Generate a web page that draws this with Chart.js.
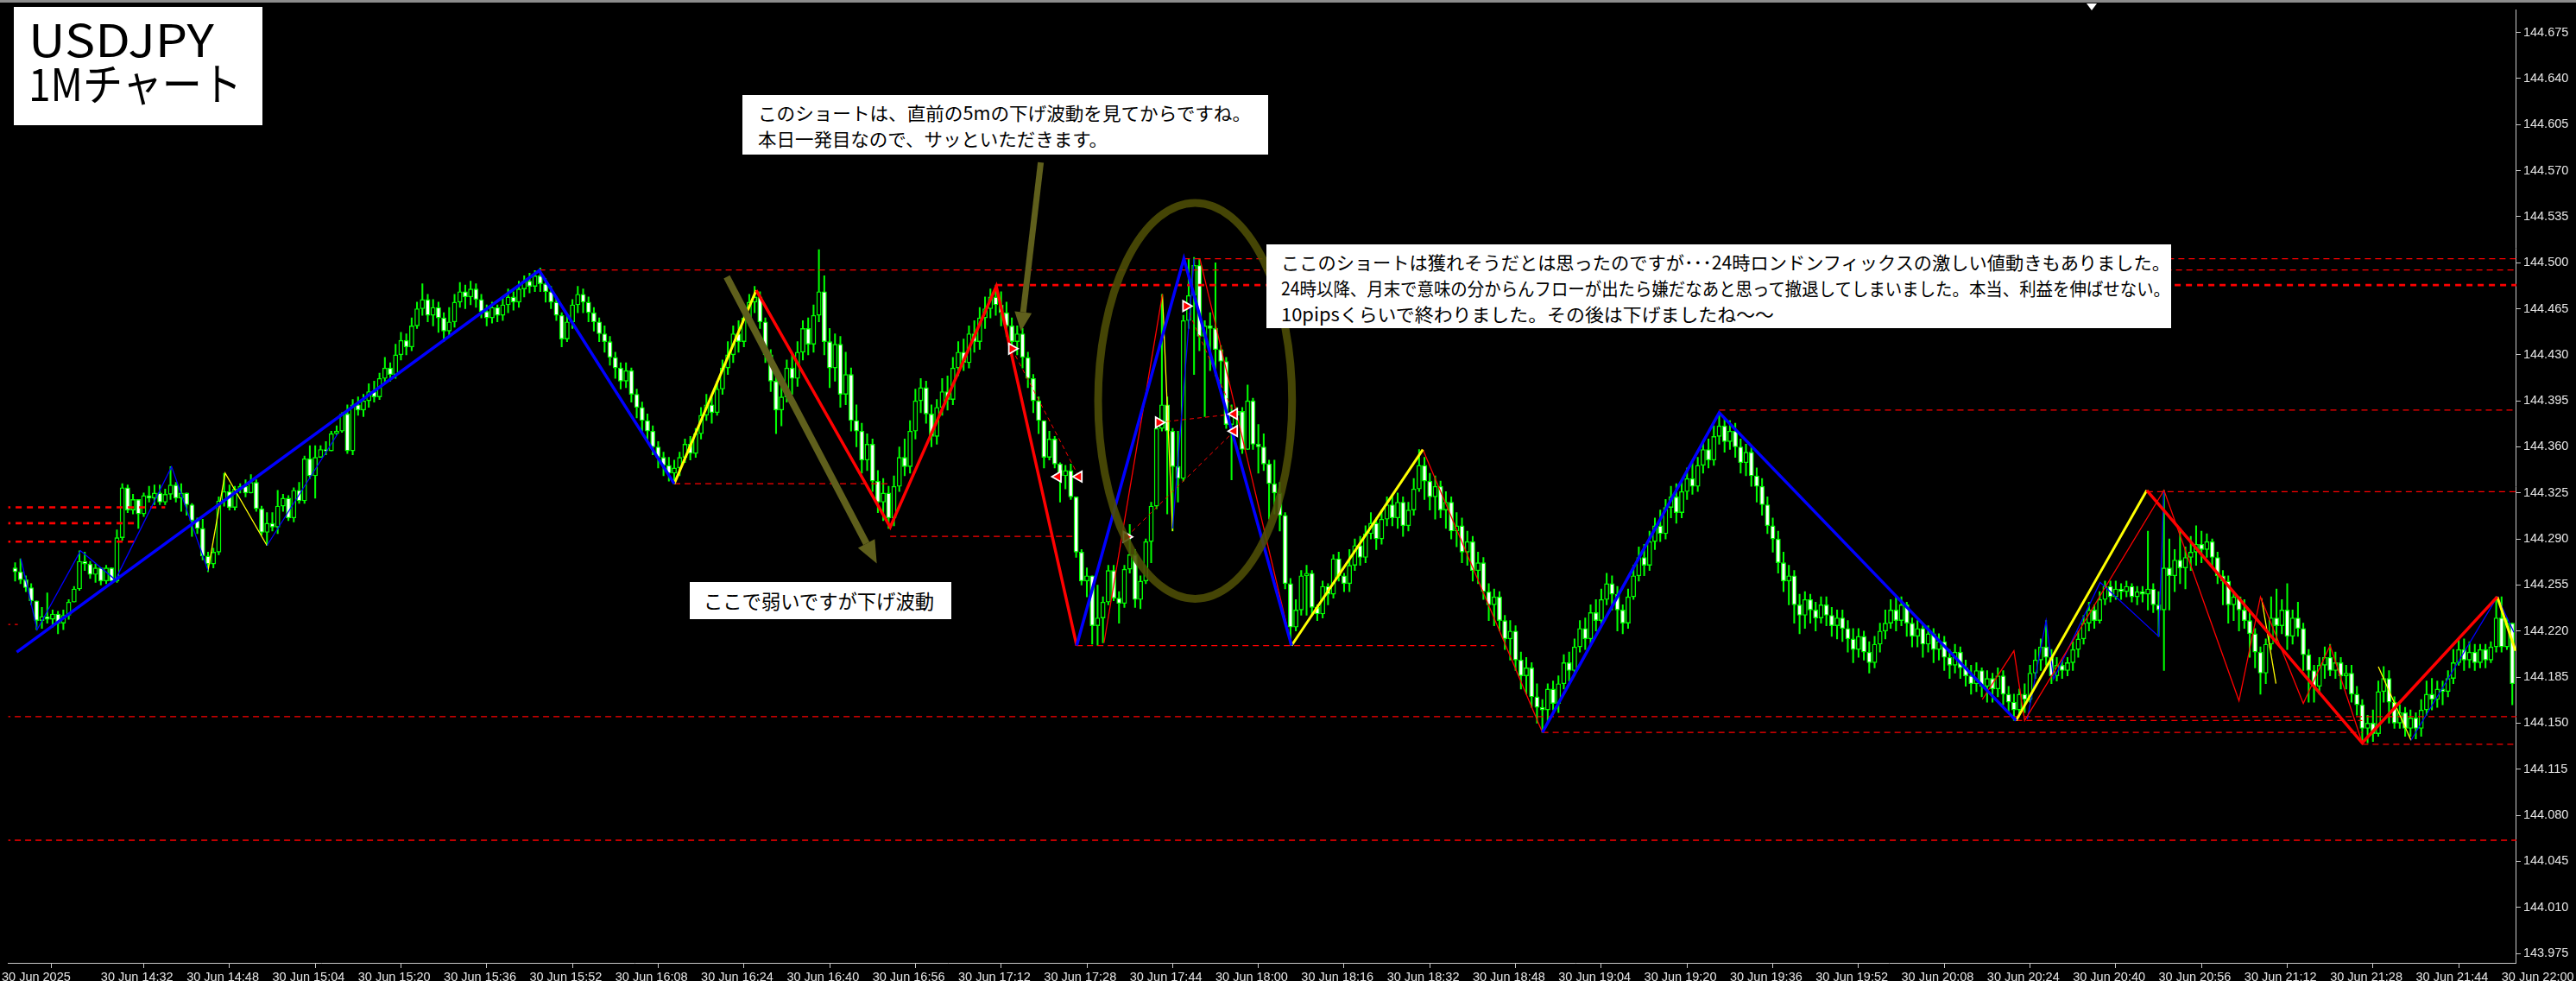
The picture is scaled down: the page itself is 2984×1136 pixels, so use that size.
<!DOCTYPE html>
<html>
<head>
<meta charset="utf-8">
<script src="https://cdn.jsdelivr.net/npm/chart.js@4.4.1/dist/chart.umd.min.js"></script>
<style>
html,body{margin:0;padding:0;background:#000;}
#wrap{position:relative;width:2984px;height:1136px;overflow:hidden;background:#000;}
#c{position:absolute;left:0;top:0;}
#topbar{position:absolute;left:0;top:0;width:2984px;height:3px;background:#8c8c8c;}
#shift{position:absolute;left:2417px;top:4px;width:0;height:0;border-left:6px solid transparent;border-right:6px solid transparent;border-top:8px solid #fff;}
.box{position:absolute;background:#fff;color:#000;font-family:"Noto Sans CJK JP","Noto Sans",sans-serif;font-weight:400;}
.ln{position:absolute;white-space:nowrap;transform-origin:0 0;}
</style>
</head>
<body>
<div id="wrap">
<canvas id="c" width="2984" height="1136"></canvas>
<div id="topbar"></div>
<div id="shift"></div>
<div class="box" style="left:16px;top:8px;width:288px;height:137px;">
  <span class="ln" data-w="215" style="left:17px;top:10px;font-size:52px;line-height:52px;">USDJPY</span>
  <span class="ln" data-w="247" style="left:17px;top:61px;font-size:52px;line-height:52px;">1Mチャート</span>
</div>
<div class="box" style="left:860px;top:110px;width:609px;height:69px;">
  <span class="ln" data-w="571" style="left:17.5px;top:9.8px;font-size:21px;line-height:21px;">このショートは、直前の5mの下げ波動を見てからですね。</span>
  <span class="ln" data-w="405" style="left:17.5px;top:39.8px;font-size:21px;line-height:21px;">本日一発目なので、サッといただきます。</span>
</div>
<div class="box" style="left:1467px;top:283px;width:1048px;height:97px;">
  <span class="ln" data-w="1030" style="left:17px;top:10.3px;font-size:21px;line-height:21px;">ここのショートは獲れそうだとは思ったのですが･･･24時ロンドンフィックスの激しい値動きもありました。</span>
  <span class="ln" data-w="1030" style="left:17px;top:40.3px;font-size:21px;line-height:21px;">24時以降、月末で意味の分からんフローが出たら嫌だなあと思って撤退してしまいました。本当、利益を伸ばせない。</span>
  <span class="ln" data-w="571" style="left:17px;top:70.3px;font-size:21px;line-height:21px;">10pipsくらいで終わりました。その後は下げましたね～～</span>
</div>
<div class="box" style="left:799px;top:674px;width:303px;height:43px;">
  <span class="ln" data-w="267" style="left:16px;top:10.2px;font-size:23px;line-height:23px;">ここで弱いですが下げ波動</span>
</div>
</div>
<script>
// ---------------- DATA (prices in points above 144.000) ----------------
const BASE = 144.0;
const PT = 0.001;
const firstOpen = 268;
const closes = [
265,259,253,243,228,231,229,233,226,232,
242,252,273,271,263,268,258,268,258,291,
329,312,320,309,323,321,325,318,324,331,
321,325,316,304,298,277,271,280,319,326,
314,328,330,325,333,313,295,302,299,315,
321,306,327,319,351,338,352,358,357,370,
372,385,357,392,388,395,402,398,412,420,
415,430,441,436,452,465,472,460,466,458,
448,455,470,478,474,480,472,463,458,466,
460,468,474,470,480,486,482,490,484,478,
470,460,442,455,468,476,470,462,455,446,
440,428,420,410,418,400,390,380,372,360,
352,346,340,344,352,362,355,370,384,392,
386,404,420,430,446,440,458,470,474,455,
430,410,388,398,420,412,432,450,438,460,
478,440,420,438,400,415,380,372,350,362,
334,318,325,306,330,352,345,372,395,405,
385,368,390,402,396,420,432,424,446,440,
458,465,474,468,462,452,440,446,428,412,
395,380,352,366,347,338,342,322,280,258,
262,224,230,242,266,245,241,267,278,244,
258,288,315,374,392,372,345,336,456,475,
498,444,452,450,434,425,377,384,387,358,
395,362,360,347,332,325,308,256,223,236,
262,264,238,233,254,248,275,262,256,270,
285,276,294,302,290,305,316,306,318,300,
312,328,346,334,322,330,312,318,296,300,
280,288,266,272,250,240,246,228,214,220,
198,186,192,170,162,160,176,165,180,196,
190,208,222,214,234,228,244,256,248,236,
226,246,262,276,270,288,300,294,314,322,
310,326,336,330,346,358,350,368,376,364,
372,360,348,356,338,330,316,300,290,272,
258,262,240,232,244,236,230,240,232,224,
230,222,214,206,216,204,196,210,220,226,
236,228,240,226,216,222,210,218,206,212,
200,194,204,192,186,180,190,178,184,176,
186,172,166,160,172,168,188,198,208,200,
186,194,190,196,206,214,226,236,228,244,
254,246,252,250,254,246,250,248,252,240,
236,268,262,274,268,276,280,286,282,288,
276,262,258,240,246,236,228,218,204,188,
210,230,224,236,216,230,222,202,190,178,
194,200,190,196,186,188,172,164,146,150,
142,174,184,166,150,158,146,154,146,160,
172,168,176,174,184,196,206,198,204,196,
206,198,208,230,208,226,180];
const highs = [
272,275,262,256,242,238,249,236,235,236,
244,254,281,280,273,271,267,270,265,297,
332,331,324,318,325,330,331,331,328,345,
333,332,324,317,306,305,280,283,322,340,
331,330,332,335,339,335,315,310,310,327,
324,323,329,333,353,361,361,361,364,372,
376,386,392,396,398,400,408,410,416,428,
424,438,447,446,458,470,484,476,472,470,
462,466,476,485,483,486,484,476,468,470,
468,474,480,478,486,490,492,494,496,488,
482,474,462,460,472,482,480,474,466,458,
452,444,432,424,424,420,404,394,385,376,
364,356,352,350,356,366,368,374,390,400,
398,410,426,440,452,456,464,476,482,478,
458,434,416,408,426,430,440,456,458,468,
510,490,450,446,444,432,420,392,378,370,
366,342,336,330,338,360,366,380,404,412,
410,392,396,412,414,428,440,442,452,456,
466,474,480,483,478,470,458,452,450,432,
415,398,378,372,368,348,346,347,322,282,
268,250,255,246,270,270,250,270,301,282,
262,290,318,379,476,398,374,372,460,503,
504,503,456,462,500,437,428,392,390,390,
407,397,377,370,350,350,333,310,260,244,
266,270,266,240,258,256,278,280,264,282,
290,292,300,310,306,312,322,324,325,322,
318,336,358,352,340,338,334,326,322,310,
306,296,292,280,276,256,252,250,232,228,
224,204,200,196,180,168,180,182,186,202,
204,214,228,230,240,244,252,264,262,254,
240,252,270,284,286,296,306,312,320,330,
332,334,344,348,352,364,366,376,386,382,
380,378,366,362,360,344,336,322,306,296,
280,270,266,248,250,248,242,246,246,238,
236,236,228,222,222,220,212,216,226,236,
244,246,246,242,230,228,226,224,222,218,
216,206,210,208,198,194,196,192,190,188,
192,190,178,172,176,180,194,206,214,228,
206,200,198,200,212,220,232,242,240,250,
258,258,258,256,258,256,254,254,296,256,
250,327,290,282,298,284,292,300,296,294,
290,280,266,262,250,246,244,234,222,208,
214,246,252,244,256,236,242,226,206,194,
200,208,210,204,200,194,194,178,168,156,
160,182,193,190,170,164,162,160,158,168,
182,184,182,182,190,206,214,214,212,210,
210,210,212,246,246,230,208];
const lows = [
258,256,250,240,221,222,226,223,218,221,
229,242,251,266,260,257,255,256,256,257,
289,310,309,298,307,318,316,316,316,320,
318,311,308,292,294,274,265,268,278,315,
312,312,325,322,325,311,293,285,296,294,
311,304,303,317,317,336,321,352,354,357,
369,371,355,354,384,383,390,394,396,408,
410,412,426,430,433,450,460,455,452,447,
440,444,451,466,465,468,466,458,452,454,
455,456,462,464,466,474,477,478,478,470,
465,456,436,440,450,462,462,455,448,440,
432,422,412,404,405,394,382,372,364,354,
344,338,334,332,338,348,350,352,366,380,
378,384,400,415,424,432,436,452,462,450,
424,402,370,376,394,400,406,426,430,432,
455,430,405,410,390,392,372,360,340,342,
326,310,304,298,300,326,338,340,366,386,
378,360,362,384,388,392,414,418,420,432,
434,450,458,460,452,444,432,430,420,405,
386,370,344,350,344,318,328,320,276,255,
246,210,209,211,240,243,226,238,264,238,
237,256,272,313,372,309,296,318,334,450,
415,433,383,418,414,405,374,335,370,355,
360,358,340,342,305,309,296,252,209,220,
232,232,232,228,230,240,245,258,250,250,
266,270,272,290,282,286,300,300,298,292,
296,308,326,320,312,305,306,298,290,284,
272,270,258,256,244,228,224,220,206,198,
190,176,172,162,150,143,150,160,158,176,
182,186,204,206,210,220,224,240,236,220,
218,222,244,258,262,266,282,288,290,306,
302,306,320,324,326,340,344,346,362,356,
358,352,340,338,330,318,308,294,280,264,
250,240,226,218,222,226,220,226,224,216,
214,212,204,196,200,198,188,192,204,214,
222,220,224,216,208,208,200,204,196,198,
190,184,188,184,178,172,174,170,166,166,
170,164,158,152,156,158,166,184,190,194,
180,182,184,186,190,200,210,220,222,226,
240,242,244,244,246,242,240,242,236,234,
216,190,236,250,256,252,266,270,272,276,
268,256,240,226,228,220,222,200,192,172,
180,206,212,218,206,210,216,190,166,166,
172,184,186,184,176,176,166,156,136,135,
136,140,166,150,146,146,140,140,138,140,
156,160,162,164,170,180,194,190,192,190,
192,192,196,204,204,206,164];

// time axis: bar 0 = 30 Jun 14:16, one bar per minute
const firstBarMinute = 14 * 60 + 16;
const tickEveryBars = 16;
const dateTickLabel = '30 Jun 2025';
const datePrefix = '30 Jun ';
// price axis ticks
const yTickFirst = 143.975, yTickStep = 0.035, yTickCount = 21;

// zigzag vertices [bar, points]
const zigBlueThick = [[[0.3,204],[97.8,494],[123,332]], [[198.1,209],[218.1,503],[238.2,209]], [[285,143],[318,386],[373.4,152]]];
const zigRedThick = [[[138.3,479],[163.3,299],[183.1,482],[198.1,209]], [[397.8,327],[438,135],[463.2,246]]];
const zigYellowThick = [[[238.2,209],[262.7,358]], [[373.4,152],[397.8,327]], [[463.2,246],[466.6,205]], [[123,332],[138.3,479]]];
const zigRedThin = [[[262.7,358],[285,143]], [[203.2,211],[214.1,476]], [[221.1,503],[238.2,209]], [[367.1,168],[373,205],[375,152],[401,327],[415,167],[419,246],[427,165],[432,209],[438,135]]];
const zigBlueThin = [[[1.08,275],[4.1,221],[12.2,281],[18.7,259],[29.2,345],[36,266]], [[47,285],[60.2,370]], [[216,298],[220,503]], [[375.5,153],[379,228],[380.4,183.5],[389.1,257],[400,216],[401,327]], [[447.1,137],[463.2,246],[466.3,219]]];
const zigYellowThin = [[[36,266],[39.2,340],[47,285]], [[214.1,476],[216,296]], [[419.2,245],[421.9,180]], [[441,193],[447.1,137]]];

// horizontal levels: price, from bar, to bar
const levelPrice = [503, 494.5, 388, 326, 155, 152, 143, 134, 61, 225, 332, 292, 209];
const levelFrom  = [218.1, 97.8, 318, 397.8, -2, 373.4, 285, 438, -2, -2, 123, 163.3, 198.1];
const levelTo    = [467, 467, 467, 467, 467, 438, 438, 467, 467, 0.5, 163.3, 198.1, 276];
const heavyLevelPrice = [483, 314, 302, 288];
const heavyLevelFrom  = [183.1, -2, -2, -2];
const heavyLevelTo    = [467, 28, 23, 23];

// trades
const entryRight = [[207.4,291.6],[213.4,378.6],[218.5,467],[186,434.6]];
const entryLeft  = [[227.5,385],[227.5,372],[194.6,337.4],[198.5,337.4]];
const tradeLinks = [[[207.4,291.6],[227.5,372]], [[213.4,378.6],[227.5,385]], [[218.5,467],[227.5,385]], [[186,434.6],[198.5,337.4]]];

// hand-drawn annotations (bar, points)
const arrowA = [[132.8,489.2],[160.8,271.4]];
const arrowB = [[191.4,576.2],[187.7,448]];
const ringCenter = [220.2, 395];
const ringSpan = [18.1, 150.5];

// ---------------- BUILD ----------------
const px = v => +(BASE + v * PT).toFixed(4);
const opens = closes.map((c, i) => i === 0 ? firstOpen : closes[i - 1]);
const wickData = closes.map((c, i) => ({x: i, y: [px(Math.min(lows[i], opens[i], c)), px(Math.max(highs[i], opens[i], c))]}));
const bodyData = closes.map((c, i) => {
  let a = px(opens[i]), b = px(c);
  if (a === b) { a -= 0.00025; b += 0.00025; }
  return {x: i, y: [a, b]};
});
const bodyFill = closes.map((c, i) => c < opens[i] ? '#ffffff' : '#000000');

function seg(groups) {
  const out = [];
  groups.forEach((g, k) => {
    if (k) out.push({x: g[0][0], y: null});
    g.forEach(p => out.push({x: p[0], y: px(p[1])}));
  });
  return out;
}
function levelGroups(prices, from, to) {
  return prices.map((p, k) => [[from[k], p], [to[k], p]]);
}
function lineDS(data, color, width, order, dash) {
  return {type: 'line', data, borderColor: color, borderWidth: width, pointRadius: 0, fill: false,
          tension: 0, spanGaps: false, order, borderDash: dash || [], borderCapStyle: 'butt'};
}

const xTicks = [-2.5];
for (let v = tickEveryBars; v <= 464; v += tickEveryBars) xTicks.push(v);
const yTicks = [];
for (let k = 0; k < yTickCount; k++) yTicks.push(+(yTickFirst + k * yTickStep).toFixed(3));

function fmtTime(v) {
  if (v < 0) return dateTickLabel;
  const m = firstBarMinute + v;
  const hh = Math.floor(m / 60), mm = m % 60;
  return datePrefix + hh + ':' + String(mm).padStart(2, '0');
}

const overlay = {
  id: 'overlay',
  afterDatasetsDraw(chart) {
    const {ctx, scales: {x, y}} = chart;
    const X = v => x.getPixelForValue(v), Y = v => y.getPixelForValue(px(v));
    ctx.save();
    const cx = X(ringCenter[0]), cy = Y(ringCenter[1]);
    const rx = X(ringCenter[0] + ringSpan[0]) - cx, ry = cy - Y(ringCenter[1] + ringSpan[1]);
    ctx.strokeStyle = 'rgba(78,78,6,0.88)';
    ctx.lineWidth = 9;
    ctx.beginPath(); ctx.ellipse(cx, cy, rx, ry, 0, 0, Math.PI * 2); ctx.stroke();
    function arrow(a, w, hl, hw) {
      const x1 = X(a[0][0]), y1 = Y(a[0][1]), x2 = X(a[1][0]), y2 = Y(a[1][1]);
      const ang = Math.atan2(y2 - y1, x2 - x1);
      const bx = x2 - hl * Math.cos(ang), by = y2 - hl * Math.sin(ang);
      ctx.strokeStyle = '#5f5f1c'; ctx.fillStyle = '#5f5f1c';
      ctx.lineWidth = w; ctx.lineCap = 'butt';
      ctx.beginPath(); ctx.moveTo(x1, y1); ctx.lineTo(bx, by); ctx.stroke();
      ctx.beginPath(); ctx.moveTo(x2, y2);
      ctx.lineTo(bx + hw / 2 * Math.sin(ang), by - hw / 2 * Math.cos(ang));
      ctx.lineTo(bx - hw / 2 * Math.sin(ang), by + hw / 2 * Math.cos(ang));
      ctx.closePath(); ctx.fill();
    }
    arrow(arrowA, 8, 26, 22);
    arrow(arrowB, 7, 22, 20);
    ctx.restore();
  }
};

const datasets = [
  {type: 'line', data: entryRight.map(p => ({x: p[0], y: px(p[1])})), showLine: false, pointStyle: 'triangle', rotation: 90,
   pointRadius: 7, backgroundColor: '#ff0000', borderColor: '#ffffff', borderWidth: 1.8, order: -2},
  {type: 'line', data: entryLeft.map(p => ({x: p[0], y: px(p[1])})), showLine: false, pointStyle: 'triangle', rotation: -90,
   pointRadius: 7, backgroundColor: '#ff0000', borderColor: '#ffffff', borderWidth: 1.8, order: -2},
  lineDS(seg(zigBlueThick), '#0000ff', 3.5, 0),
  lineDS(seg(zigRedThick), '#ff0000', 3.5, 0),
  lineDS(seg(zigYellowThick), '#ffff00', 3, 0),
  lineDS(seg(zigRedThin), '#ff0000', 1.3, 1),
  lineDS(seg(zigBlueThin), '#0000ff', 1.3, 1),
  lineDS(seg(zigYellowThin), '#ffff00', 1.3, 1),
  lineDS(seg(tradeLinks), '#ff0000', 1, 2, [5, 4]),
  lineDS(seg(levelGroups(levelPrice, levelFrom, levelTo)), '#ff0000', 1.3, 3, [7, 5]),
  lineDS(seg(levelGroups(heavyLevelPrice, heavyLevelFrom, heavyLevelTo)), '#ff0000', 2.6, 3, [7, 6]),
  {type: 'bar', data: bodyData, backgroundColor: bodyFill, borderColor: '#00ff00', borderWidth: 1.4,
   borderSkipped: false, barThickness: 5.2, grouped: false, order: 5},
  {type: 'bar', data: wickData, backgroundColor: '#00ff00', borderWidth: 0, barThickness: 1.4, grouped: false, order: 6}
];

const axisFont = {family: 'Liberation Sans', size: 14.5};
new Chart(document.getElementById('c'), {
  type: 'bar',
  data: {datasets},
  plugins: [overlay],
  options: {
    responsive: false, animation: false, devicePixelRatio: 1, events: [],
    layout: {padding: {left: 0, top: 8, right: 0, bottom: 0}},
    plugins: {legend: {display: false}, tooltip: {enabled: false}},
    scales: {
      x: {
        type: 'linear', min: -1.28, max: 466.76, offset: false,
        grid: {drawOnChartArea: false, color: '#c8c8c8', tickLength: 6},
        border: {color: '#c8c8c8', width: 1},
        ticks: {color: '#e6e6e6', font: axisFont, align: 'start', maxRotation: 0, minRotation: 0, autoSkip: false, padding: 2, callback: fmtTime},
        afterBuildTicks: s => { s.ticks = xTicks.map(v => ({value: v})); },
        afterFit: s => { s.height = 21; }
      },
      y: {
        type: 'linear', position: 'right', min: 143.9678, max: 144.692,
        grid: {drawOnChartArea: false, color: '#c8c8c8', tickLength: 5},
        border: {color: '#c8c8c8', width: 1},
        ticks: {color: '#e6e6e6', font: axisFont, padding: 3, autoSkip: false, callback: v => Number(v).toFixed(3)},
        afterBuildTicks: s => { s.ticks = yTicks.map(v => ({value: v})); },
        afterFit: s => { s.width = 62; }
      }
    }
  }
});

document.querySelectorAll('.ln').forEach(el => {
  const w = el.getBoundingClientRect().width;
  const t = +el.dataset.w;
  if (w > 0) el.style.transform = 'scaleX(' + (t / w) + ')';
});
</script>
</body>
</html>
